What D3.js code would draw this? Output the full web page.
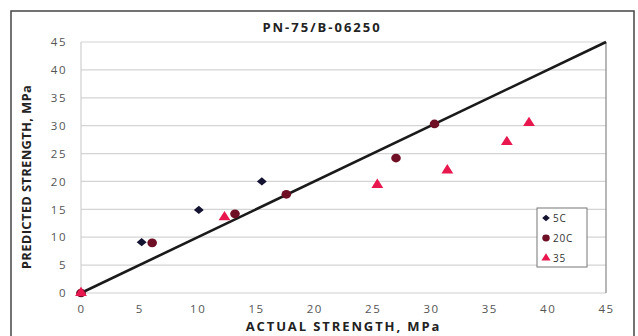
<!DOCTYPE html>
<html>
<head>
<meta charset="utf-8">
<script src="https://cdn.jsdelivr.net/npm/d3@7"></script>
<style>
body { margin: 0; background: #fff; }
text { font-family: "Open Sans", "Liberation Sans", sans-serif; }
</style>
</head>
<body>
<script>
// data: [actual, predicted]
var series5C = [[0, 0], [5.2, 9.1], [10.1, 14.9], [15.5, 20.0]];
var series20C = [[0, 0], [6.1, 9.0], [13.2, 14.2], [17.6, 17.7], [27.0, 24.2], [30.3, 30.3]];
var series35 = [[0, 0], [12.3, 13.6], [25.4, 19.4], [31.4, 22.0], [36.5, 27.1], [38.4, 30.5]];
var ticks = [0, 5, 10, 15, 20, 25, 30, 35, 40, 45];
var legendNames = ["5C", "20C", "35"];

var W = 638, H = 336;
var svg = d3.select("body").append("svg").attr("width", W).attr("height", H);

// outer frame
svg.append("rect").attr("x", 11).attr("y", 11).attr("width", 623).attr("height", 340)
  .attr("fill", "none").attr("stroke", "#444").attr("stroke-width", 1.5);

var x = d3.scaleLinear().domain([0, 45]).range([81, 606]);
var y = d3.scaleLinear().domain([0, 45]).range([293, 42]);

// gridlines
svg.append("g").selectAll("line").data(ticks.slice(1)).enter().append("line")
  .attr("x1", x(0)).attr("x2", x(45))
  .attr("y1", function(d){ return y(d); }).attr("y2", function(d){ return y(d); })
  .attr("stroke", "#d4d4d4").attr("stroke-width", 1.2);

// plot border (top/right) and axes
svg.append("line").attr("x1", x(0)).attr("x2", x(45)).attr("y1", y(0)).attr("y2", y(0))
  .attr("stroke", "#cfcfcf").attr("stroke-width", 1.2);
svg.append("line").attr("x1", x(0)).attr("x2", x(0)).attr("y1", y(0)).attr("y2", y(45))
  .attr("stroke", "#cfcfcf").attr("stroke-width", 1.2);
svg.append("line").attr("x1", x(45)).attr("x2", x(45)).attr("y1", y(0)).attr("y2", y(45))
  .attr("stroke", "#888").attr("stroke-width", 1.2);

// tick labels
var yAxis = d3.axisLeft(y).tickValues(ticks).tickSize(0).tickPadding(14);
var gy = svg.append("g").attr("transform", "translate(" + x(0) + ",0)").call(yAxis);
var xAxis = d3.axisBottom(x).tickValues(ticks).tickSize(0).tickPadding(12);
var gx = svg.append("g").attr("transform", "translate(0," + y(0) + ")").call(xAxis);
[gx, gy].forEach(function(g){
  g.select(".domain").remove();
  g.selectAll("text").attr("fill", "#555").style("font-size", "11.5px")
    .style("letter-spacing", "1.5px")
    .style("font-family", "'Open Sans', sans-serif");
});

// 1:1 line
svg.append("line").attr("x1", x(0)).attr("y1", y(0)).attr("x2", x(45)).attr("y2", y(45))
  .attr("stroke", "#1a1a1a").attr("stroke-width", 2.6);

var sym = {
  "5C": { shape: d3.symbolSquare, size: 34, color: "#141432", rot: 45, sx: 1.2 },
  "20C": { shape: d3.symbolCircle, size: 60, color: "#6e0f26", rot: 0, sx: 1.1 },
  "35": { shape: d3.symbolTriangle, size: 50, color: "#e8184f", rot: 0, sx: 1.1 }
};
var all = [series5C, series20C, series35];

function place(s, px, py) {
  return "translate(" + px + "," + py + ") scale(" + s.sx + ",1) rotate(" + s.rot + ")";
}

all.forEach(function(data, i){
  var s = sym[legendNames[i]];
  svg.append("g").selectAll("path").data(data).enter().append("path")
    .attr("d", d3.symbol().type(s.shape).size(s.size))
    .attr("transform", function(d){ return place(s, x(d[0]), y(d[1])); })
    .attr("fill", s.color);
});

// title and axis labels
svg.append("text").attr("x", 322).attr("y", 32).attr("text-anchor", "middle")
  .style("font-size", "13px").style("font-weight", "bold").style("letter-spacing", "2px")
  .attr("fill", "#222").text("PN-75/B-06250");
svg.append("text").attr("x", (x(0) + x(45)) / 2).attr("y", 331).attr("text-anchor", "middle")
  .style("font-size", "13px").style("font-weight", "bold").style("letter-spacing", "1.9px")
  .attr("fill", "#222").text("ACTUAL STRENGTH, MPa");
svg.append("text").attr("transform", "translate(31," + 177 + ") rotate(-90)").attr("text-anchor", "middle")
  .style("font-size", "13px").style("font-weight", "bold").style("letter-spacing", "0.3px")
  .attr("fill", "#222").text("PREDICTED STRENGTH, MPa");

// legend
var lg = svg.append("g");
lg.append("rect").attr("x", 537).attr("y", 208).attr("width", 50).attr("height", 59)
  .attr("fill", "#fff").attr("stroke", "#777").attr("stroke-width", 1);
legendNames.forEach(function(n, i){
  var s = sym[n];
  var ly = 218 + i * 20;
  var ls = { rot: s.rot, sx: s.sx };
  lg.append("path").attr("d", d3.symbol().type(s.shape).size(s.size * 0.6))
    .attr("transform", place(ls, 546, ly)).attr("fill", s.color);
  lg.append("text").attr("x", 553).attr("y", ly + 3.5).style("font-size", "10px")
    .style("letter-spacing", "0.8px").attr("fill", "#333").text(n);
});
</script>
</body>
</html>
